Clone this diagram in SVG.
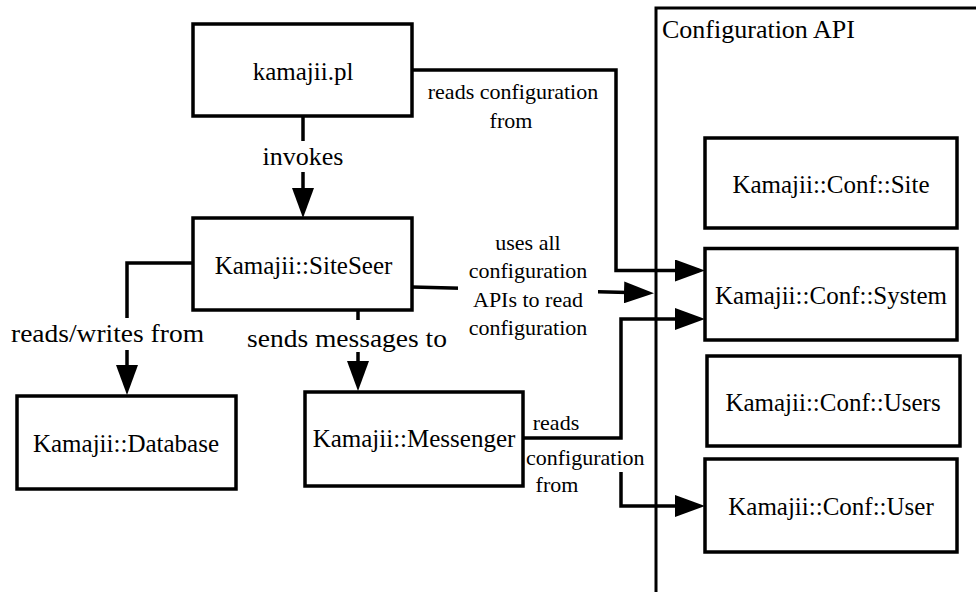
<svg xmlns="http://www.w3.org/2000/svg" width="976" height="592" viewBox="0 0 976 592" font-family="Liberation Serif, Times New Roman, Times, serif">
<style>
.box{fill:#fff;stroke:#000;stroke-width:3.5}
.t{font-size:25px;fill:#000;text-anchor:middle}
.s{font-size:22px;fill:#000;text-anchor:middle}
.c{fill:none;stroke:#000;stroke-width:3.5}
.bg{fill:#fff}
</style>
<defs>
<marker id="ah" markerUnits="userSpaceOnUse" viewBox="0 0 30 22" markerWidth="30" markerHeight="22" refX="24" refY="11" orient="auto">
<path d="M0,0 L30,11 L0,22 z" fill="#000"/>
</marker>
</defs>
<rect width="976" height="592" fill="#fff"/>
<g id="configuration-api">
<rect x="656" y="8" width="400" height="700" fill="none" stroke="#000" stroke-width="3"/>
<text x="662" y="38" font-size="26" font-family="Liberation Serif, serif">Configuration API</text>
</g>
<g id="connectors" font-family="Liberation Serif, serif">
<path class="c" d="M412,70 H616 V270.5 H699" marker-end="url(#ah)"/>
<path class="c" d="M303,116 V212" marker-end="url(#ah)"/>
<path class="c" d="M412,287 L648,293" marker-end="url(#ah)"/>
<path class="c" d="M193,263 H127 V389" marker-end="url(#ah)"/>
<path class="c" d="M358,310 V385" marker-end="url(#ah)"/>
<path class="c" d="M523,438 H621 V319 H699" marker-end="url(#ah)"/>
<path class="c" d="M621,472 V506 H699" marker-end="url(#ah)"/>
<rect class="bg" x="266" y="141" width="74" height="31"/>
<text class="t" x="303" y="165" style="font-size:26px">invokes</text>
<text class="s" x="513" y="99">reads configuration</text>
<text class="s" x="511" y="128">from</text>
<rect class="bg" x="458" y="230" width="140" height="112"/>
<text class="s" x="528" y="250">uses all</text>
<text class="s" x="528" y="278">configuration</text>
<text class="s" x="528" y="307">APIs to read</text>
<text class="s" x="528" y="335">configuration</text>
<rect class="bg" x="10" y="318" width="196" height="32"/>
<text x="11" y="342" font-size="25" textLength="193" lengthAdjust="spacingAndGlyphs">reads/writes from</text>
<rect class="bg" x="246" y="320" width="203" height="32"/>
<text x="247" y="347" font-size="25" textLength="200" lengthAdjust="spacingAndGlyphs">sends messages to</text>
<text class="s" x="556" y="430">reads</text>
<text class="s" x="526" y="465" style="text-anchor:start">configuration</text>
<text class="s" x="557" y="492">from</text>
</g>
<g id="kamajii-pl">
<rect class="box" x="193" y="24" width="219" height="92"/>
<text class="t" x="303" y="80">kamajii.pl</text>
</g>
<g id="sitesseer">
<rect class="box" x="193" y="218" width="219" height="92"/>
<text class="t" x="303.5" y="274">Kamajii::SiteSeer</text>
</g>
<g id="database">
<rect class="box" x="17" y="396" width="219" height="93"/>
<text class="t" x="126" y="452">Kamajii::Database</text>
</g>
<g id="messenger">
<rect class="box" x="305" y="392" width="218" height="94"/>
<text class="t" x="414" y="447">Kamajii::Messenger</text>
</g>
<g id="conf-site">
<rect class="box" x="705" y="138" width="252" height="90"/>
<text class="t" x="831" y="193">Kamajii::Conf::Site</text>
</g>
<g id="conf-system">
<rect class="box" x="705" y="248.5" width="252" height="91.5"/>
<text class="t" x="831" y="304">Kamajii::Conf::System</text>
</g>
<g id="conf-users">
<rect class="box" x="707" y="356" width="253" height="90"/>
<text class="t" x="833" y="411">Kamajii::Conf::Users</text>
</g>
<g id="conf-user">
<rect class="box" x="705" y="459" width="252" height="93"/>
<text class="t" x="831" y="515">Kamajii::Conf::User</text>
</g>
</svg>
